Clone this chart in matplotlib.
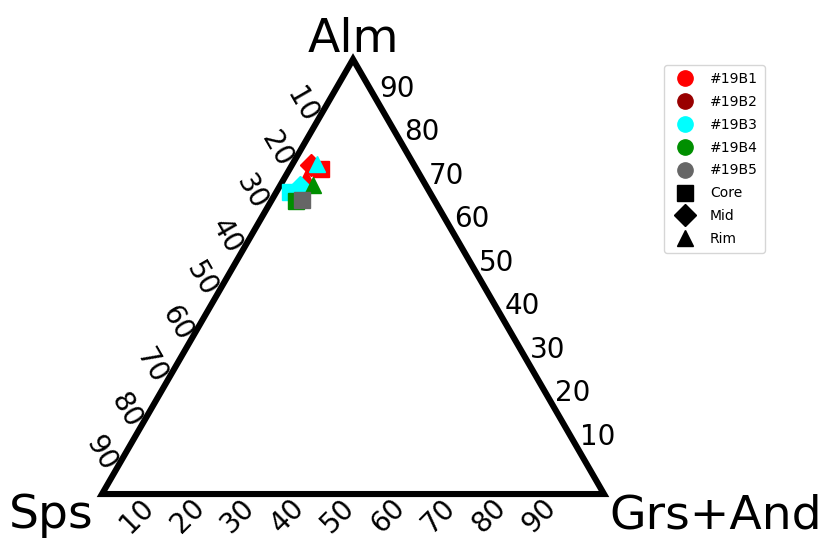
import numpy as np
import matplotlib
matplotlib.use("Agg")
import matplotlib.pyplot as plt
from matplotlib.lines import Line2D

# ---- data (Grs+And, Alm, Sps in %) ----
samples = ["#19B1", "#19B2", "#19B3", "#19B4", "#19B5"]
sample_colors = ["#ff0000", "#990000", "#00ffff", "#008f00", "#666666"]
positions = ["Core", "Mid", "Rim"]
position_markers = ["s", "D", "^"]

b1_pos = ["Core", "Mid", "Rim"]
b1_grs = [6.3, 3.9, 4.3]
b1_alm = [74.8, 75.6, 72.7]

b2_pos = []
b2_grs = []
b2_alm = []

b3_pos = ["Core", "Mid", "Rim"]
b3_grs = [2.7, 4.1, 4.9]
b3_alm = [69.5, 70.6, 75.9]

b4_pos = ["Core", "Rim"]
b4_grs = [5.0, 6.5]
b4_alm = [67.4, 71.1]

b5_pos = ["Core"]
b5_grs = [6.0]
b5_alm = [67.6]

tick_values = [10, 20, 30, 40, 50, 60, 70, 80, 90]
apex_labels = ["Alm", "Sps", "Grs+And"]

SQ3 = np.sqrt(3) / 2


def proj(grs, alm):
    grs = np.asarray(grs, float)
    alm = np.asarray(alm, float)
    return grs + alm / 2.0, alm * SQ3


fig = plt.figure(figsize=(8.26, 5.38), dpi=100)
ax = fig.add_axes([0, 0, 1, 1])
ax.set_xlim(-20.32, 144.22)
ax.set_ylim(-8.76, 98.41)
ax.axis("off")

# triangle
tri_x, tri_y = proj([0, 100, 0], [0, 0, 100])
ax.add_patch(plt.Polygon(np.column_stack([tri_x, tri_y]), closed=True,
                         fill=False, edgecolor="black", lw=4.4,
                         joinstyle="miter", zorder=2))

# tick labels
for v in tick_values:
    # right axis (Alm)
    x, y = proj(100 - v, v)
    ax.text(x + 3.69, y + 2.79, str(v), fontsize=20, ha="center",
            va="center", rotation=0)
    # left axis (Sps)
    x, y = proj(0, 100 - v)
    ax.text(x - 5.18, y - 0.6, str(v), fontsize=20, ha="center",
            va="center", rotation=-60)
    # bottom axis (Grs+And)
    x, y = proj(v, 0)
    ax.text(x - 2.99, y - 4.4, str(v), fontsize=20, ha="center",
            va="center", rotation=45)

# apex labels
ax.text(50.0, 88.05, apex_labels[0], fontsize=34, ha="center", va="baseline")
ax.text(-1.6, -6.77, apex_labels[1], fontsize=34, ha="right", va="baseline")
ax.text(101.1, -6.77, apex_labels[2], fontsize=34, ha="left", va="baseline")

# data points
groups = [(b1_pos, b1_grs, b1_alm), (b2_pos, b2_grs, b2_alm),
          (b3_pos, b3_grs, b3_alm), (b4_pos, b4_grs, b4_alm),
          (b5_pos, b5_grs, b5_alm)]
mk = dict(zip(positions, position_markers))
for (pos, grs, alm), col in zip(groups, sample_colors):
    for p, g, a in zip(pos, grs, alm):
        x, y = proj([g], [a])
        ax.plot(x, y, linestyle="none", marker=mk[p], markersize=11,
                color=col, markeredgecolor=col, zorder=3)

# legend
handles = [Line2D([], [], linestyle="none", marker="o", markersize=11,
                  color=c) for c in sample_colors]
handles += [Line2D([], [], linestyle="none", marker=m, markersize=11,
                   color="black") for m in position_markers]
labels = samples + positions
fig.legend(handles, labels, loc="upper left",
           bbox_to_anchor=(664 / 826, 1 - 65 / 538), fontsize=10,
           labelspacing=0.64, handletextpad=0.8, borderpad=0.5,
           borderaxespad=0.0, frameon=True)

fig.savefig("out.png", dpi=100)
